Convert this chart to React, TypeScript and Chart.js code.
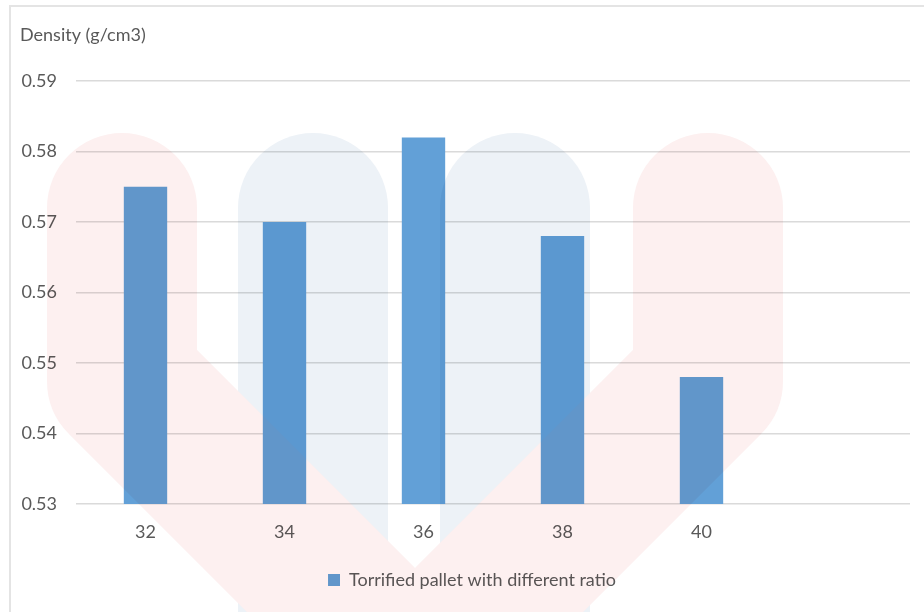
import React, { useEffect, useRef } from 'react';
import { Chart, registerables } from 'chart.js';

Chart.register(...registerables);

const categories = ['32', '34', '36', '38', '40', ''];
const densityValues = [0.575, 0.57, 0.582, 0.568, 0.548, null];
const seriesLabel = 'Torrified pallet with different ratio';
const axisTitle = 'Density (g/cm3)';
const yMin = 0.53;
const yMax = 0.59;
const yStep = 0.01;

const FONT = 'Lato, "Open Sans", sans-serif';
const TEXT = '#595959';
const BAR = '#62a0d7';

const framePlugin = {
  id: 'frame',
  beforeDraw(chart: any) {
    const ctx = chart.ctx;
    ctx.save();
    ctx.fillStyle = '#ffffff';
    ctx.fillRect(0, 0, chart.width, chart.height);
    ctx.strokeStyle = '#e4e4e4';
    ctx.lineWidth = 2;
    ctx.strokeRect(10, 6, chart.width + 20, chart.height + 20);
    ctx.restore();
  },
  afterLayout(chart: any) {
    const lg = chart.legend;
    if (lg) {
      lg.left += 7;
      lg.right += 7;
    }
  },
};

const watermarkPlugin = {
  id: 'watermark',
  afterDatasetsDraw(chart: any) {
    const off = document.createElement('canvas');
    off.width = chart.width;
    off.height = chart.height;
    const o = off.getContext('2d') as CanvasRenderingContext2D;
    o.fillStyle = '#ffffff';
    o.fillRect(0, 0, off.width, off.height);
    o.lineCap = 'round';
    o.lineJoin = 'round';
    o.lineWidth = 150;
    o.strokeStyle = '#edf2f7';
    o.beginPath();
    o.moveTo(313, 208);
    o.lineTo(313, 720);
    o.stroke();
    o.beginPath();
    o.moveTo(515, 208);
    o.lineTo(515, 720);
    o.stroke();
    o.strokeStyle = '#fdf0f0';
    o.beginPath();
    o.moveTo(122, 208);
    o.lineTo(122, 381);
    o.lineTo(415, 674);
    o.lineTo(708, 381);
    o.lineTo(708, 208);
    o.stroke();
    const ctx = chart.ctx;
    ctx.save();
    ctx.globalCompositeOperation = 'multiply';
    ctx.drawImage(off, 0, 0);
    ctx.restore();
  },
};

export default function App() {
  const ref = useRef<HTMLCanvasElement | null>(null);
  useEffect(() => {
    if (!ref.current) return;
    const chart = new Chart(ref.current, {
      type: 'bar',
      data: {
        labels: categories,
        datasets: [
          {
            label: seriesLabel,
            data: densityValues,
            backgroundColor: BAR,
            borderWidth: 0,
            categoryPercentage: 1,
            barPercentage: 0.312,
          },
        ],
      },
      options: {
        responsive: false,
        animation: false,
        devicePixelRatio: 1,
        layout: { padding: { left: 20, right: 14, top: 0, bottom: 13 } },
        plugins: {
          title: {
            display: true,
            text: axisTitle,
            align: 'start',
            color: TEXT,
            font: { family: FONT, size: 18, weight: 'normal' },
            padding: { top: 24, bottom: 35.4 },
          },
          tooltip: { enabled: false },
          legend: {
            display: true,
            position: 'bottom',
            labels: {
              boxWidth: 12,
              boxHeight: 12,
              padding: 10,
              color: TEXT,
              font: { family: FONT, size: 18 },
            },
          },
        },
        scales: {
          x: {
            grid: { display: false, drawTicks: false },
            border: { display: false },
            ticks: { color: TEXT, font: { family: FONT, size: 18 }, padding: 17, maxRotation: 0 },
            afterFit: (s: any) => {
              s.height = 57;
            },
          },
          y: {
            min: yMin,
            max: yMax,
            grid: { color: '#dadada', lineWidth: 1.5, drawTicks: false },
            border: { display: false },
            ticks: {
              stepSize: yStep,
              color: TEXT,
              font: { family: FONT, size: 18 },
              padding: 19,
              callback: (v: any) => Number(v).toFixed(2),
            },
            afterFit: (s: any) => {
              s.width = 56;
            },
          },
        },
      },
      plugins: [framePlugin, watermarkPlugin],
    });
    return () => chart.destroy();
  }, []);
  return (
    <div style={{ position: 'absolute', left: 0, top: 0, width: 924, height: 612 }}>
      <canvas ref={ref} width={924} height={612} style={{ display: 'block' }} />
    </div>
  );
}
